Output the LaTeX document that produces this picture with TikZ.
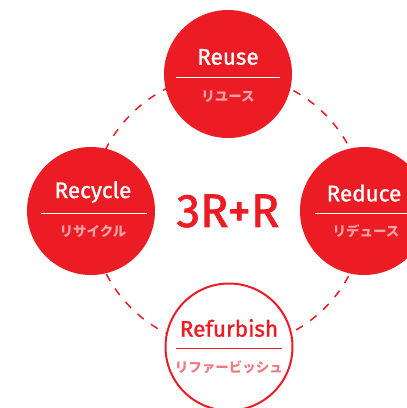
\documentclass[tikz,border=0pt]{standalone}
\usepackage{fontspec}
\setmainfont{Fira Sans}
\newfontfamily\titlefont{Fira Sans}[FakeBold=1.2]
\newfontfamily\corefont{Fira Sans}[FakeBold=1.5]
\newfontfamily\jpfont{Noto Sans CJK JP}
\definecolor{rred}{HTML}{EC1C24}
\definecolor{jpOnRed}{HTML}{F6A3A7}
\definecolor{jpOnWhite}{HTML}{F07A80}
\tikzset{
  bubble/.style={circle, minimum size=128pt, inner sep=0pt, fill=rred},
  hollow/.style={circle, minimum size=127pt, inner sep=0pt, fill=white, draw=rred, line width=2pt},
  title/.style={font=\titlefont\fontsize{22.5}{25}\selectfont, text=white, inner sep=0pt},
  jp/.style={font=\jpfont\bfseries\fontsize{13.5}{15}\selectfont, text=jpOnRed, inner sep=0pt},
  sepline/.style={draw=white, line width=1pt},
  ring/.style={draw=rred, line width=1.5pt, dash pattern=on 8pt off 9pt},
}
\begin{document}
\begin{tikzpicture}[x=1pt,y=-1pt]
\useasboundingbox (0,0) rectangle (407,408);
\clip (0,0) rectangle (407,408);
\coordinate (ctr) at (228,211);
\draw[ring] (ctr) circle[radius=137];
% top
\node[bubble] (reuse) at (228,74) {};
\node[title] (reuseT) at (228,57) {Reuse};
\draw[sepline] (176,77) -- (280,77);
\node[jp] (reuseJ) at (228,97) {リユース};
% left
\node[bubble] (recycle) at (91,211) {};
\node[title] (recycleT) at (93,192) {Recycle};
\draw[sepline] (41,213) -- (147,213);
\node[jp] (recycleJ) at (93,231) {リサイクル};
% right
\node[bubble] (reduce) at (364,211) {};
\node[title] (reduceT) at (364,193) {Reduce};
\draw[sepline] (315,213) -- (420,213);
\node[jp] (reduceJ) at (366,231) {リデュース};
% bottom
\node[hollow] (refurb) at (229,347) {};
\node[title, text=rred] (refurbT) at (229,328) {Refurbish};
\draw[sepline, draw=rred] (176,348) -- (282,348);
\node[jp, text=jpOnWhite] (refurbJ) at (229,367) {リファービッシュ};
% centre
\node[font=\corefont\fontsize{47}{50}\selectfont, text=rred, inner sep=0pt] (core) at (ctr) {3R+R};
\end{tikzpicture}
\end{document}
